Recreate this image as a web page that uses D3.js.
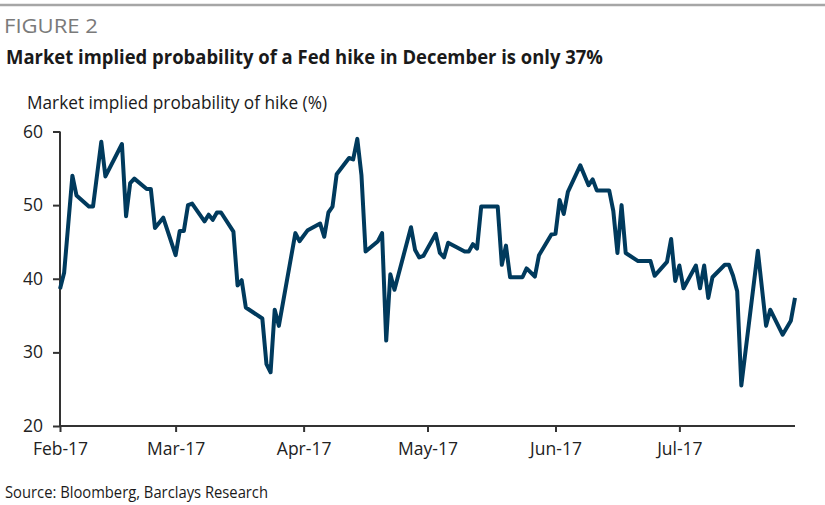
<!DOCTYPE html>
<html><head><meta charset="utf-8">
<script src="https://cdn.jsdelivr.net/npm/d3@7"></script>
<style>
body{margin:0;background:#fff;}
svg{display:block;}
</style></head>
<body>
<svg id="chart" width="825" height="505"></svg>
<script>
const dates = ["2017-02-01","2017-02-02","2017-02-04","2017-02-05","2017-02-08","2017-02-09","2017-02-11","2017-02-12","2017-02-16","2017-02-17","2017-02-18","2017-02-19","2017-02-22","2017-02-23","2017-02-24","2017-02-26","2017-03-01","2017-03-02","2017-03-03","2017-03-04","2017-03-05","2017-03-08","2017-03-09","2017-03-10","2017-03-11","2017-03-12","2017-03-15","2017-03-16","2017-03-17","2017-03-18","2017-03-22","2017-03-23","2017-03-24","2017-03-25","2017-03-26","2017-03-30","2017-03-31","2017-04-02","2017-04-05","2017-04-06","2017-04-07","2017-04-08","2017-04-09","2017-04-12","2017-04-13","2017-04-14","2017-04-15","2017-04-16","2017-04-19","2017-04-20","2017-04-21","2017-04-22","2017-04-23","2017-04-27","2017-04-28","2017-04-29","2017-04-30","2017-05-03","2017-05-04","2017-05-05","2017-05-06","2017-05-10","2017-05-11","2017-05-12","2017-05-13","2017-05-14","2017-05-18","2017-05-19","2017-05-20","2017-05-21","2017-05-24","2017-05-25","2017-05-27","2017-05-28","2017-05-31","2017-06-01","2017-06-02","2017-06-03","2017-06-04","2017-06-07","2017-06-09","2017-06-10","2017-06-11","2017-06-14","2017-06-15","2017-06-16","2017-06-17","2017-06-18","2017-06-21","2017-06-24","2017-06-25","2017-06-28","2017-06-29","2017-06-30","2017-07-01","2017-07-02","2017-07-05","2017-07-06","2017-07-07","2017-07-08","2017-07-09","2017-07-12","2017-07-13","2017-07-14","2017-07-15","2017-07-16","2017-07-20","2017-07-22","2017-07-23","2017-07-26","2017-07-28","2017-07-29"];
const probability = [38.6,40.8,54.0,51.3,49.8,49.8,58.6,53.9,58.3,48.5,53.0,53.6,52.2,52.2,46.9,48.3,43.2,46.5,46.5,50.0,50.2,47.8,48.7,48.0,49.0,49.0,46.4,39.1,39.8,36.1,34.6,28.4,27.3,35.8,33.6,46.2,45.1,46.6,47.5,45.7,49.0,49.8,54.2,56.4,56.2,59.0,54.1,43.7,45.1,46.2,31.6,40.6,38.5,47.0,43.9,42.9,43.1,46.1,43.5,42.9,44.9,43.7,43.7,44.7,44.1,49.8,49.8,41.9,44.5,40.2,40.2,41.4,40.3,43.2,46.0,46.1,50.7,48.8,51.8,55.4,52.7,53.5,52.0,52.0,49.2,43.5,50.0,43.5,42.4,42.4,40.4,42.3,45.4,39.7,41.8,38.7,41.8,38.7,41.8,37.4,40.2,41.9,41.9,40.4,38.3,25.5,43.8,33.6,35.8,32.4,34.3,37.4];
const yTicks = [20,30,40,50,60];
const xTickDates = ["2017-02-01","2017-03-01","2017-04-01","2017-05-01","2017-06-01","2017-07-01"];
const xTickLabels = ["Feb-17","Mar-17","Apr-17","May-17","Jun-17","Jul-17"];
const figureLabel = "FIGURE 2";
const titleText = "Market implied probability of a Fed hike in December is only 37%";
const yTitle = "Market implied probability of hike (%)";
const sourceText = "Source: Bloomberg, Barclays Research";

const parse = d3.utcParse("%Y-%m-%d");
const data = dates.map((d,i)=>({date:parse(d), value:probability[i]}));

const svg = d3.select("#chart");
const FONT = "'Liberation Sans Narrow','Open Sans','DejaVu Sans Condensed',sans-serif";

// top rule
svg.append("line").attr("x1",0).attr("x2",825).attr("y1",5).attr("y2",5)
  .attr("stroke","#a6a6a6").attr("stroke-width",2.5);

svg.append("text").attr("x",4).attr("y",33).text(figureLabel)
  .attr("font-family",FONT).attr("font-size",20).attr("fill","#7a7a7a")
  .attr("textLength",94).attr("lengthAdjust","spacingAndGlyphs");

svg.append("text").attr("x",6).attr("y",64).text(titleText)
  .attr("font-family",FONT).attr("font-size",20).attr("font-weight","bold").attr("fill","#1a1a1a")
  .attr("textLength",597).attr("lengthAdjust","spacingAndGlyphs");

svg.append("text").attr("x",27).attr("y",109).text(yTitle)
  .attr("font-family",FONT).attr("font-size",18).attr("fill","#1a1a1a")
  .attr("textLength",300).attr("lengthAdjust","spacingAndGlyphs");

svg.append("text").attr("x",5).attr("y",498).text(sourceText)
  .attr("font-family",FONT).attr("font-size",16).attr("fill","#1a1a1a")
  .attr("textLength",263).attr("lengthAdjust","spacingAndGlyphs");

const x = d3.scaleUtc().domain([parse("2017-02-01"), parse("2017-07-29")]).range([60,795]);
const y = d3.scaleLinear().domain([20,60]).range([426,131.5]);

const yAxis = svg.append("g").attr("transform","translate(60,0)")
  .call(d3.axisLeft(y).tickValues(yTicks).tickSize(7).tickPadding(10).tickFormat(d3.format("d")));
const xAxis = svg.append("g").attr("transform","translate(0,426)")
  .call(d3.axisBottom(x).tickValues(xTickDates.map(parse)).tickSize(6).tickPadding(11)
    .tickFormat((d,i)=>xTickLabels[i]));

[yAxis,xAxis].forEach(g=>{
  g.select(".domain").attr("stroke","#333").attr("stroke-width",2);
  g.selectAll(".tick line").attr("stroke","#333").attr("stroke-width",2);
  g.selectAll(".tick text").attr("font-family","'Open Sans',sans-serif").attr("font-size",17.5).attr("fill","#222");
});
xAxis.select(".domain").attr("d","M60,0H795");
yAxis.select(".domain").attr("d","M0,131.5V426");

const line = d3.line().x(d=>x(d.date)).y(d=>y(d.value));
svg.append("path").datum(data).attr("d",line)
  .attr("fill","none").attr("stroke","#003a5d").attr("stroke-width",4).attr("stroke-linejoin","round");
</script>
</body></html>
